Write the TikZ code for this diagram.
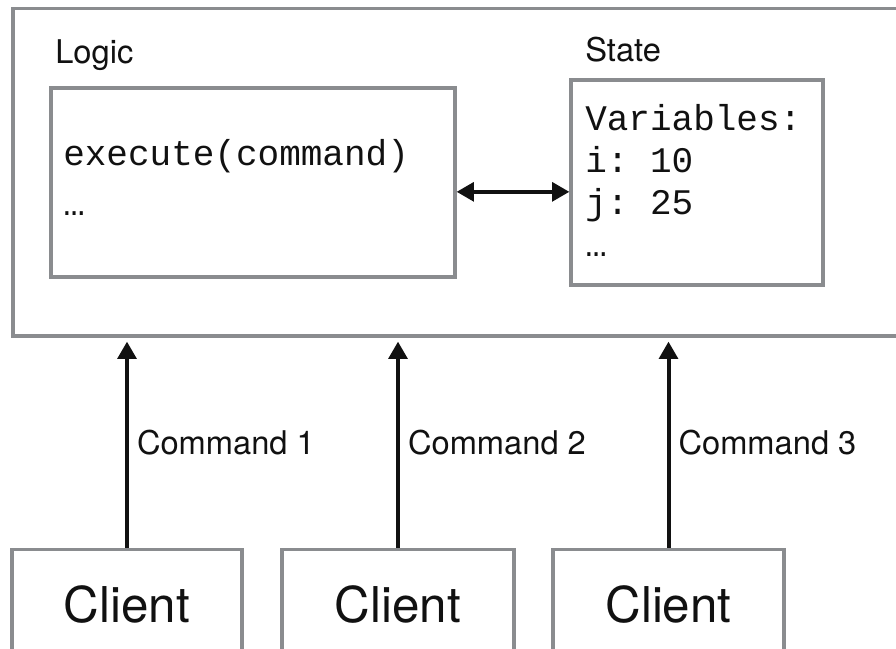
\documentclass[tikz,border=0pt]{standalone}
\usepackage{fontspec}
\setmainfont{TeX Gyre Heros}
\setmonofont{Liberation Mono}
\usetikzlibrary{arrows.meta,positioning}
\definecolor{frame}{HTML}{8A8C8F}
\definecolor{ink}{HTML}{111111}

\begin{document}
\begin{tikzpicture}[
  x=0.75pt, y=-0.75pt,
  >={Triangle[length=13pt,width=14pt]},
  box/.style={draw=frame, line width=2.4pt, fill=white, inner sep=0pt},
  lbl/.style={font=\fontsize{24.5pt}{28pt}\selectfont, text=ink, inner sep=0pt},
  code/.style={font=\ttfamily\fontsize{27pt}{#1}\selectfont, text=ink,
    align=left, inner sep=0pt, anchor=base west},
  flow/.style={->, line width=3pt, ink},
]
\useasboundingbox (0,0) rectangle (896,649);
\clip (0,0) rectangle (896,649);

% server with its logic and state
\node[box, minimum width=663.75pt, minimum height=245.6pt] (system) at (455.5,172.25) {};
\node[box, minimum width=303pt, minimum height=141.75pt] (logic) at (253,182.5) {};
\node[box, minimum width=189pt, minimum height=153.75pt] (state) at (697,182.5) {};

\node[lbl, anchor=base west] (logiclbl) at (55,64) {Logic};
\node[lbl, anchor=base west] (statelbl) at (585,62) {State};

% base of a multi-line node sits on its last line
\node[code=37.5pt] (logiccode) at (63,215) {execute(command)\\…};
\node[code=31.75pt] (statecode) at (585,257) {Variables:\\i: 10\\j: 25\\…};

\draw[<->, line width=3pt, ink] ([yshift=-7pt]logic.east) -- ([yshift=-7pt]logic.east -| state.west);

% clients (cut off at the bottom)
\node[box, minimum width=172.5pt, minimum height=128pt] (c1) at (127,634.5) {};
\node[box, minimum width=174pt, minimum height=128pt] (c2) at (398,634.5) {};
\node[box, minimum width=173.25pt, minimum height=128pt] (c3) at (668.5,634.5) {};
\node[lbl, font=\fontsize{37pt}{40pt}\selectfont, anchor=base] (c1txt) at (127,622) {Client};
\node[lbl, font=\fontsize{37pt}{40pt}\selectfont, anchor=base] (c2txt) at (398,622) {Client};
\node[lbl, font=\fontsize{37pt}{40pt}\selectfont, anchor=base] (c3txt) at (668.5,622) {Client};

\draw[flow, shorten >=3pt] (c1.north) -- (c1.north |- system.south)
  node[lbl, midway, right=6pt] (cmd1) {Command 1};
\draw[flow, shorten >=3pt] (c2.north) -- (c2.north |- system.south)
  node[lbl, midway, right=6pt] (cmd2) {Command 2};
\draw[flow, shorten >=3pt] (c3.north) -- (c3.north |- system.south)
  node[lbl, midway, right=6pt] (cmd3) {Command 3};

\end{tikzpicture}
\end{document}
